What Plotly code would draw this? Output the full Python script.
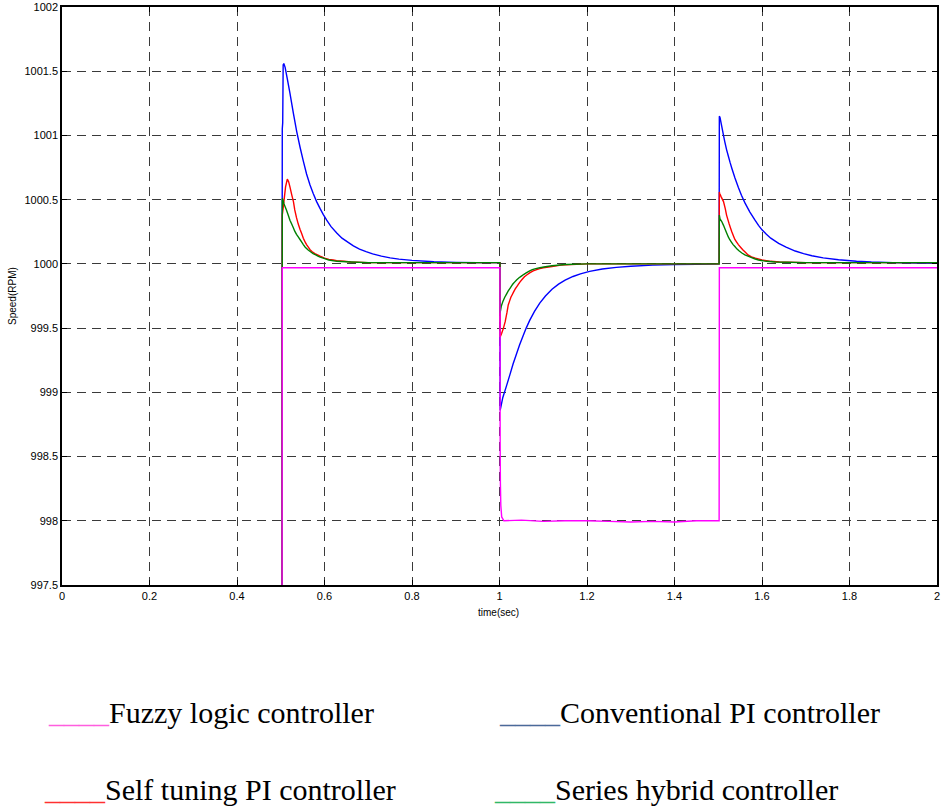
import plotly.graph_objects as go

# ---------------- data ----------------
t_fuzzy = [0.503, 0.5035, 0.6, 0.8, 1.0, 1.001, 1.0015, 1.002, 1.003, 1.005, 1.01, 1.05, 1.1, 1.15,
           1.2, 1.25, 1.3, 1.35, 1.4, 1.45, 1.5, 1.502, 1.5025, 1.7, 2.0]
v_fuzzy = [997.5, 999.97, 999.97, 999.97, 999.97, 999.97, 998.6, 998.3, 998.12, 998.03, 998.0, 998.005,
           997.995, 998.0, 998.0, 997.995, 997.99, 997.995, 997.99, 998.0, 998.0, 998.0, 999.97, 999.97, 999.97]

t_conv = [0.503, 0.5032, 0.5035, 0.5045, 0.5055, 0.507, 0.510, 0.515, 0.521, 0.529, 0.5365, 0.544,
          0.5516, 0.559, 0.5669, 0.574, 0.582, 0.59, 0.597, 0.605, 0.615, 0.628, 0.64, 0.655, 0.666,
          0.68, 0.695, 0.71, 0.73, 0.75, 0.77, 0.8, 0.85, 0.9, 0.95, 1.001,
          1.0015, 1.0076, 1.016, 1.024, 1.031, 1.039, 1.046, 1.054, 1.061, 1.069, 1.08, 1.092, 1.105,
          1.12, 1.135, 1.15, 1.168, 1.185, 1.206, 1.235, 1.267, 1.3, 1.35, 1.4, 1.45, 1.502,
          1.5025, 1.504, 1.508, 1.512, 1.515, 1.519, 1.523, 1.527, 1.531, 1.538, 1.546, 1.553, 1.561,
          1.572, 1.584, 1.592, 1.6, 1.61, 1.62, 1.638, 1.655, 1.676, 1.695, 1.714, 1.74, 1.775, 1.816,
          1.85, 1.9, 1.95, 2.0]
v_conv = [997.5, 999.9, 1001.05, 1001.1, 1001.55, 1001.56, 1001.53, 1001.44, 1001.33, 1001.17,
          1001.03, 1000.91, 1000.80, 1000.70, 1000.615, 1000.55, 1000.485, 1000.43, 1000.385,
          1000.34, 1000.29, 1000.24, 1000.20, 1000.165, 1000.14, 1000.115, 1000.095, 1000.078,
          1000.06, 1000.047, 1000.037, 1000.027, 1000.017, 1000.012, 1000.01, 1000.01,
          998.86, 998.96, 999.05, 999.14, 999.22, 999.30, 999.37, 999.44, 999.50, 999.56, 999.63,
          999.695, 999.75, 999.802, 999.842, 999.873, 999.902, 999.922, 999.942, 999.96, 999.973,
          999.982, 999.99, 999.994, 999.997, 1000.0,
          1001.15, 1001.14, 1001.07, 1001.0, 1000.95, 1000.89, 1000.84, 1000.79, 1000.745, 1000.67,
          1000.595, 1000.535, 1000.475, 1000.405, 1000.34, 1000.30, 1000.265, 1000.23, 1000.20,
          1000.16, 1000.13, 1000.10, 1000.08, 1000.063, 1000.047, 1000.032, 1000.021, 1000.015,
          1000.01, 1000.007, 1000.005]

t_self = [0.503, 0.5035, 0.506, 0.511, 0.515, 0.518, 0.521, 0.525, 0.529, 0.532, 0.536, 0.54, 0.544,
          0.548, 0.5516, 0.555, 0.559, 0.563, 0.567, 0.572, 0.578, 0.584, 0.59, 0.6, 0.61, 0.62,
          0.628, 0.645, 0.66, 0.7, 0.8, 1.001,
          1.0015, 1.005, 1.009, 1.013, 1.017, 1.020, 1.023, 1.026, 1.029, 1.032, 1.036, 1.04, 1.043,
          1.047, 1.052, 1.057, 1.063, 1.069, 1.077, 1.085, 1.092, 1.1, 1.12, 1.14, 1.2, 1.502,
          1.5025, 1.503, 1.507, 1.512, 1.516, 1.519, 1.522, 1.525, 1.528, 1.531, 1.535, 1.538, 1.542,
          1.546, 1.551, 1.556, 1.562, 1.568, 1.576, 1.585, 1.6, 1.62, 1.64, 1.7, 2.0]
v_self = [997.5, 1000.38, 1000.45, 1000.6, 1000.66, 1000.64, 1000.60, 1000.54, 1000.485, 1000.42,
          1000.36, 1000.31, 1000.27, 1000.235, 1000.20, 1000.175, 1000.15, 1000.13, 1000.11, 1000.095,
          1000.08, 1000.07, 1000.06, 1000.045, 1000.035, 1000.03, 1000.025, 1000.02, 1000.015,
          1000.01, 1000.01, 1000.01,
          999.43, 999.46, 999.5, 999.55, 999.62, 999.68, 999.71, 999.74, 999.76, 999.78, 999.805,
          999.825, 999.84, 999.86, 999.88, 999.9, 999.915, 999.93, 999.945, 999.955, 999.963, 999.97,
          999.98, 999.99, 1000.0, 1000.0,
          1000.56, 1000.55, 1000.52, 1000.485, 1000.43, 1000.38, 1000.345, 1000.31, 1000.28, 1000.25,
          1000.215, 1000.19, 1000.17, 1000.15, 1000.13, 1000.11, 1000.09, 1000.07, 1000.055, 1000.045,
          1000.03, 1000.02, 1000.015, 1000.01, 1000.01]

t_hyb = [0.503, 0.5035, 0.505, 0.507, 0.51, 0.513, 0.517, 0.521, 0.525, 0.529, 0.532, 0.536, 0.54,
         0.544, 0.548, 0.5516, 0.556, 0.562, 0.568, 0.574, 0.58, 0.585, 0.59, 0.597, 0.61, 0.628, 0.66,
         0.7, 1.001,
         1.0015, 1.004, 1.008, 1.012, 1.016, 1.02, 1.024, 1.028, 1.031, 1.035, 1.039, 1.044, 1.05,
         1.055, 1.061, 1.068, 1.075, 1.083, 1.092, 1.105, 1.12, 1.15, 1.2, 1.502,
         1.5025, 1.504, 1.508, 1.512, 1.515, 1.518, 1.523, 1.526, 1.53, 1.534, 1.538, 1.543, 1.548,
         1.554, 1.561, 1.568, 1.575, 1.583, 1.592, 1.61, 1.63, 1.7, 2.0]
v_hyb = [997.5, 1000.51, 1000.5, 1000.47, 1000.445, 1000.42, 1000.38, 1000.34, 1000.31, 1000.28,
         1000.255, 1000.23, 1000.21, 1000.19, 1000.17, 1000.15, 1000.13, 1000.11, 1000.095, 1000.08,
         1000.07, 1000.06, 1000.052, 1000.045, 1000.03, 1000.02, 1000.015, 1000.01, 1000.01,
         999.62, 999.67, 999.71, 999.74, 999.765, 999.79, 999.81, 999.83, 999.845, 999.86, 999.875,
         999.89, 999.905, 999.917, 999.93, 999.943, 999.955, 999.963, 999.97, 999.978, 999.985,
         999.995, 1000.0, 1000.0,
         1000.38, 1000.35, 1000.33, 1000.30, 1000.275, 1000.25, 1000.21, 1000.19, 1000.17, 1000.15,
         1000.135, 1000.115, 1000.10, 1000.085, 1000.07, 1000.06, 1000.05, 1000.04, 1000.03, 1000.02,
         1000.015, 1000.01, 1000.01]

x_ticks = [0, 0.2, 0.4, 0.6, 0.8, 1, 1.2, 1.4, 1.6, 1.8, 2]
y_ticks = [997.5, 998, 998.5, 999, 999.5, 1000, 1000.5, 1001, 1001.5, 1002]

legend_rows = [
    ("Fuzzy logic controller", "#ff5ee0"),
    ("Conventional PI controller", "#4a6a9a"),
    ("Self tuning PI controller", "#ff3030"),
    ("Series hybrid controller", "#30b868"),
]

# ---------------- figure ----------------
W, H = 943, 807
L, R, T, B = 62, 6, 7, 222
PW, PH = W - L - R, H - T - B

fig = go.Figure()
series = [
    (t_conv, v_conv, "#0000ff"),
    (t_self, v_self, "#ff0000"),
    (t_hyb, v_hyb, "#008000"),
    (t_fuzzy, v_fuzzy, "#ff00ff"),
]
for tx, vy, col in series:
    fig.add_trace(go.Scatter(x=tx, y=vy, mode="lines",
                             line=dict(color=col, width=1.4, simplify=False),
                             showlegend=False, hoverinfo="skip"))

axis_common = dict(
    showgrid=True, gridcolor="#3a3a3a", griddash="9px,6px", gridwidth=1,
    showline=True, linecolor="black", linewidth=1.5, mirror="ticks",
    ticks="inside", ticklen=5, tickcolor="black", zeroline=False, automargin=False,
    tickfont=dict(family="Liberation Sans, Arial", size=11, color="black"),
)
fig.update_xaxes(range=[0, 2], tickmode="array", tickvals=x_ticks,
                 ticktext=[f"{v:g}" for v in x_ticks], **axis_common)
fig.update_yaxes(range=[997.5, 1002], tickmode="array", tickvals=y_ticks,
                 ticktext=[f"{v:g}" for v in y_ticks], **axis_common)

def px_x(p):
    return (p - L) / PW

def px_y(p):
    return (H - B - p) / PH

ann = [
    dict(text="time(sec)", x=px_x(498), y=px_y(612), xanchor="center", yanchor="middle",
         font=dict(family="Liberation Sans, Arial", size=10, color="black")),
    dict(text="Speed(RPM)", x=px_x(12), y=px_y(296), xanchor="center", yanchor="middle",
         textangle=-90, font=dict(family="Liberation Sans, Arial", size=10, color="black")),
]
pos = [(46, 712), (497, 712), (42, 789), (492, 789)]
for (label, col), (lx, ly) in zip(legend_rows, pos):
    ann.append(dict(
        text=f"<span style='color:{col}'>____</span>{label}",
        x=px_x(lx), y=px_y(ly), xanchor="left", yanchor="middle",
        font=dict(family="Liberation Serif, Times New Roman", size=30, color="black"),
    ))
for a in ann:
    a.update(xref="paper", yref="paper", showarrow=False)

fig.update_layout(
    width=W, height=H, margin=dict(l=L, r=R, t=T, b=B, pad=0, autoexpand=False),
    plot_bgcolor="white", paper_bgcolor="white", annotations=ann,
    showlegend=False,
)
fig.write_html("out.html")
